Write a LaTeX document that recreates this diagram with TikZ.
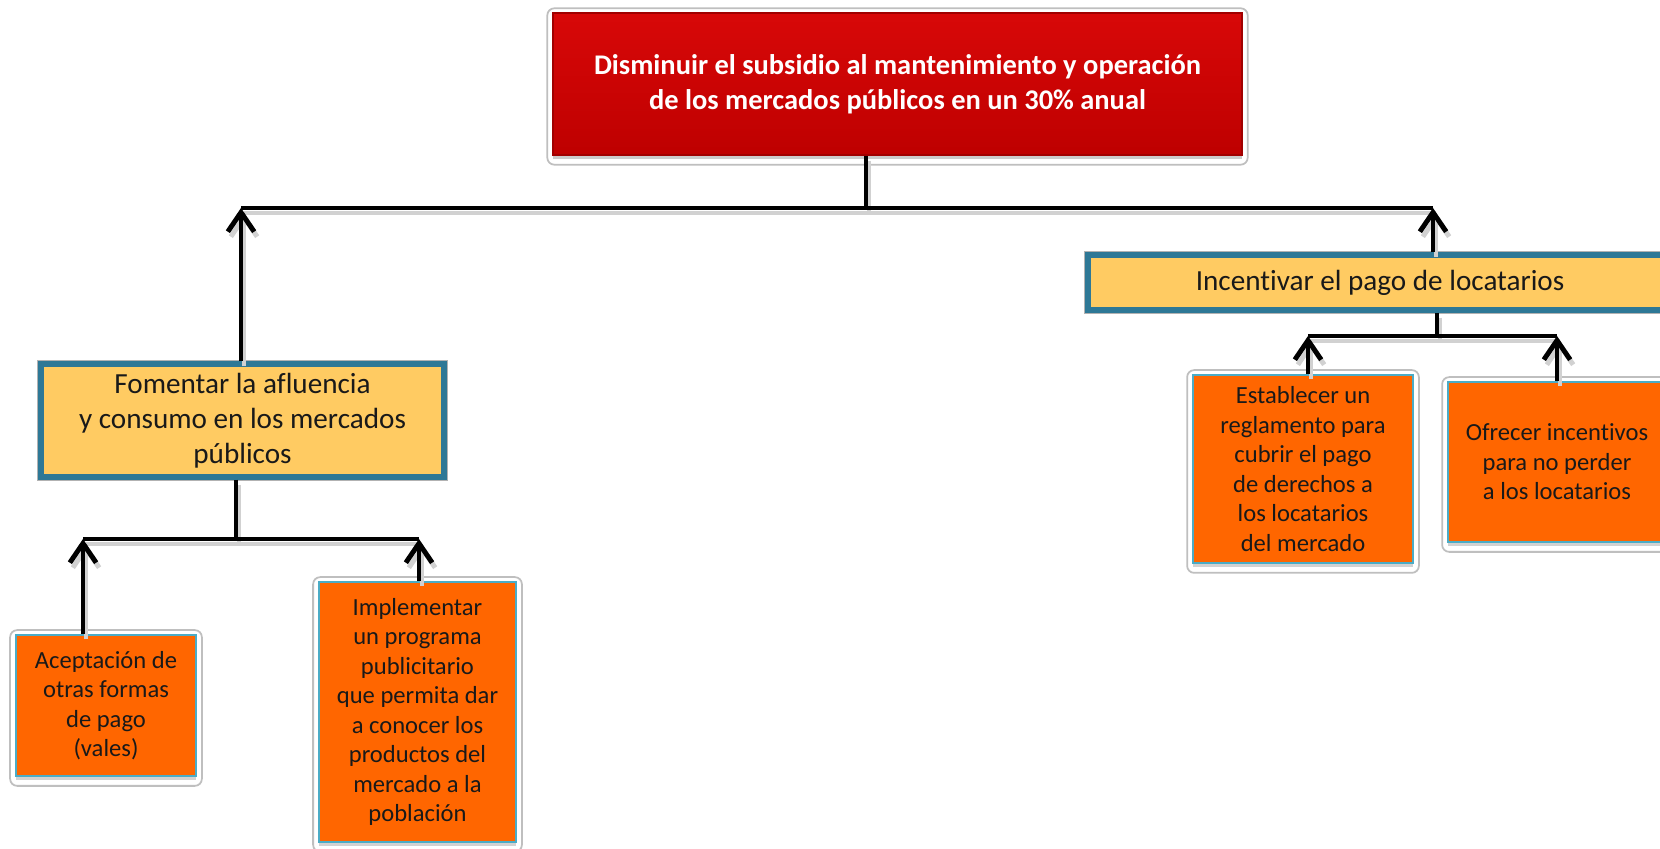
\documentclass[tikz,border=0pt]{standalone}
\usepackage{fontspec}
\setmainfont{Carlito}[Ligatures=CommonOff]
\usetikzlibrary{arrows.meta,shadows}
\definecolor{rojo}{HTML}{BE0000}
\definecolor{rojoclaro}{HTML}{D80808}
\definecolor{amarillo}{HTML}{FFCB62}
\definecolor{azulborde}{HTML}{2E7896}
\definecolor{naranja}{HTML}{FF6600}
\definecolor{celeste}{HTML}{4BACC6}
\pgfdeclarelayer{fondo}
\pgfsetlayers{fondo,main}
\tikzset{
  meta/.style={top color=rojoclaro, bottom color=rojo, draw=rojo!85!black, line width=0.4pt,
    text=white, font=\bfseries\fontsize{8.1}{10}\selectfont, align=center, inner sep=0pt,
    minimum width=6.89cm, minimum height=1.42cm,
    drop shadow={shadow xshift=0pt, shadow yshift=-0.04cm, opacity=0.4}},
  objetivo/.style={fill=amarillo, draw=azulborde, line width=1.5pt,
    preaction={draw=black!30, line width=2.2pt}, text=black!90,
    font=\fontsize{8.3}{10}\selectfont, align=center, inner sep=0pt},
  accion/.style={fill=naranja, draw=celeste, line width=0.5pt, text=black!90,
    font=\fontsize{7}{8.4}\selectfont, align=center, inner sep=0pt,
    drop shadow={shadow xshift=0pt, shadow yshift=-0.04cm, opacity=0.35}},
  marco/.style={draw=black!25, fill=white, line width=0.5pt, rounded corners=2pt},
  linea/.style={line width=1.4pt,
    preaction={draw=black!18, line width=1.4pt, transform canvas={shift={(0.03,-0.05)}}}},
  flecha/.style={linea, -{Straight Barb[length=5.5pt,width=7.5pt]}}
}
\begin{document}
\begin{tikzpicture}
\useasboundingbox (0,0) rectangle (16.60,8.49);

\node[meta] (meta) at (8.975,7.65) {Disminuir el subsidio al mantenimiento y operación\\de los mercados públicos en un 30\% anual};

\node[objetivo, minimum width=4.03cm, minimum height=1.13cm] (fomentar) at (2.425,4.285) {Fomentar la afluencia\\y consumo en los mercados\\públicos};
\node[objetivo, minimum width=5.84cm, minimum height=0.55cm] (incent) at (13.80,5.665) {Incentivar el pago de locatarios};

\node[accion, minimum width=1.80cm, minimum height=1.41cm] (acept) at (1.06,1.435) {Aceptación de\\otras formas\\de pago\\(vales)};
\node[accion, minimum width=1.97cm, minimum height=2.60cm] (implem) at (4.175,1.37) {Implementar\\un programa\\publicitario\\que permita dar\\a conocer los\\productos del\\mercado a la\\población};
\node[accion, minimum width=2.20cm, minimum height=1.88cm] (establ) at (13.03,3.80) {Establecer un\\reglamento para\\cubrir el pago\\de derechos a\\los locatarios\\del mercado};
\node[accion, minimum width=2.18cm, minimum height=1.60cm] (ofrec) at (15.57,3.87) {Ofrecer incentivos\\para no perder\\a los locatarios};

\begin{pgfonlayer}{fondo}
\foreach \n in {meta,acept,implem,establ,ofrec}
  \path[marco] ([shift={(-0.05,0.04)}]\n.north west) rectangle ([shift={(0.05,-0.09)}]\n.south east);
\end{pgfonlayer}

\coordinate (b0) at (8.66,6.41);
\coordinate (b0l) at (2.41,6.41);
\coordinate (b0r) at (14.33,6.41);
\coordinate (b1) at (2.36,3.10);
\coordinate (b1l) at (0.83,3.10);
\coordinate (b1r) at (4.19,3.10);
\coordinate (b2) at (14.37,5.13);
\coordinate (b2l) at (13.08,5.13);
\coordinate (b2r) at (15.57,5.13);

\path[draw,linea] (meta.south -| b0) -- (b0);
\path[draw,linea] (b0l) -- (b0r);
\path[draw,flecha] (fomentar.north -| b0l) -- (b0l);
\path[draw,flecha] (incent.north -| b0r) -- (b0r);

\path[draw,linea] (fomentar.south -| b1) -- (b1);
\path[draw,linea] (b1l) -- (b1r);
\path[draw,flecha] (acept.north -| b1l) -- (b1l);
\path[draw,flecha] (implem.north -| b1r) -- (b1r);

\path[draw,linea] (incent.south -| b2) -- (b2);
\path[draw,linea] (b2l) -- (b2r);
\path[draw,flecha] (establ.north -| b2l) -- (b2l);
\path[draw,flecha] (ofrec.north -| b2r) -- (b2r);
\end{tikzpicture}
\end{document}
